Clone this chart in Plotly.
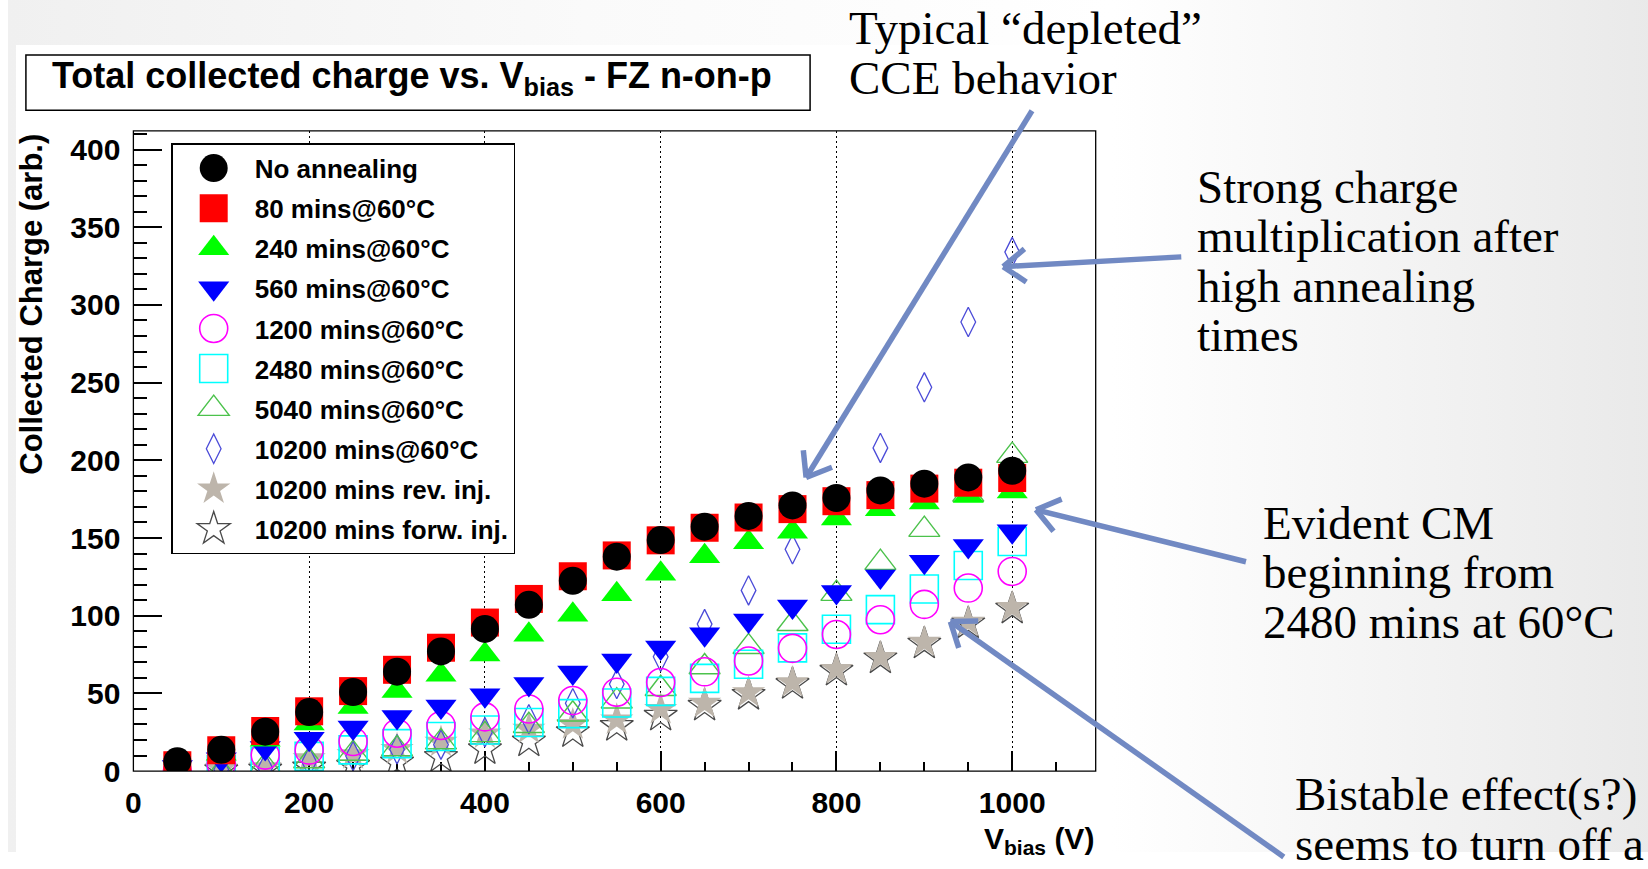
import numpy as np
import plotly.graph_objects as go

W, H = 1648, 869

# ---- data -------------------------------------------------------------
voltage = [50, 100, 150, 200, 250, 300, 350, 400, 450, 500,
           550, 600, 650, 700, 750, 800, 850, 900, 950, 1000]

no_anneal = [6.3, 13.7, 25.4, 38.0, 50.9, 64.0, 77.0, 91.5, 107.0, 122.5,
             138.0, 148.7, 157.3, 164.2, 171.0, 175.8, 180.6, 185.0, 189.0, 193.3]
ann_80 = [3.8, 13.5, 25.8, 38.5, 51.5, 65.2, 79.4, 95.6, 110.8, 125.4,
          138.8, 148.5, 156.6, 163.2, 168.6, 173.7, 177.6, 181.8, 185.6, 188.6]
ann_240 = [3.0, 11.2, 20.2, 30.7, 41.2, 51.5, 62.0, 75.0, 87.7, 100.6,
           113.8, 127.0, 138.2, 147.2, 154.0, 162.6, 168.5, 172.9, 177.0, 180.0]
ann_560 = [2.6, 7.6, 14.9, 20.8, 28.0, 34.9, 41.6, 48.8, 56.0, 63.5,
           71.2, 79.6, 88.0, 97.0, 106.0, 115.3, 125.3, 134.8, 144.9, 154.4]
ann_1200 = [0.0, 4.4, 10.3, 13.5, 19.1, 24.4, 29.4, 34.9, 40.0, 45.4,
            50.8, 57.0, 63.9, 70.9, 79.0, 87.9, 97.4, 107.3, 117.8, 128.5]
ann_2480 = [None, 0.8, 6.1, 9.5, 13.7, 17.7, 22.3, 26.5, 31.3, 37.0,
            43.8, 51.3, 59.7, 68.8, 79.3, 91.3, 103.9, 117.2, 132.3, 147.8]
ann_5040 = [None, 0.0, 3.4, 6.5, 11.3, 14.3, 18.7, 23.3, 29.2, 36.6,
            45.0, 53.0, 67.0, 80.0, 94.8, 114.2, 134.2, 155.4, 178.0, 203.0]
ann_10200 = [None, 1.0, 2.0, 6.0, 9.7, 14.0, 17.0, 25.0, 33.4, 43.7,
             56.0, 73.6, 94.6, 116.3, 142.7, 172.0, 208.0, 247.0, 289.0, 334.0]
rev_inj = [None, 1.4, 2.3, 8.0, 10.6, 14.0, 18.7, 24.0, 27.0, 30.0,
           33.0, 39.7, 43.7, 50.5, 57.0, 65.4, 73.2, 83.0, 95.9, 105.4]
forw_inj = [None, 0.5, 1.0, 2.3, 3.4, 5.5, 9.0, 14.0, 19.0, 25.0,
            29.0, 35.6, 42.0, 49.0, 56.0, 64.5, 72.5, 82.0, 95.0, 104.5]

series_names = ["No annealing", "80 mins@60°C", "240 mins@60°C", "560 mins@60°C",
                "1200 mins@60°C", "2480 mins@60°C", "5040 mins@60°C",
                "10200 mins@60°C", "10200 mins rev. inj.", "10200 mins forw. inj."]
series_values = [no_anneal, ann_80, ann_240, ann_560, ann_1200, ann_2480,
                 ann_5040, ann_10200, rev_inj, forw_inj]

x_ticks = [0, 200, 400, 600, 800, 1000]
y_ticks = [0, 50, 100, 150, 200, 250, 300, 350, 400]

# ---- styles -----------------------------------------------------------
SANS = "Liberation Sans, Arial, sans-serif"
SERIF = "Liberation Serif, Times New Roman, serif"
ARROW = "#7189c3"

marker_styles = [
    dict(symbol="circle", size=28, color="black"),
    dict(symbol="square", size=28, color="#ff0000"),
    dict(symbol="triangle-up", size=27, color="#00ff00"),
    dict(symbol="triangle-down", size=27, color="#0000ff"),
    dict(symbol="circle-open", size=28, color="#ff00ff", line=dict(width=1.6, color="#ff00ff")),
    dict(symbol="square-open", size=28, color="#00ffff", line=dict(width=1.6, color="#00ffff")),
    dict(symbol="triangle-up-open", size=27, color="#4cc24c", line=dict(width=1.4, color="#4cc24c")),
    dict(symbol="diamond-tall-open", size=21, color="#4b4bd8", line=dict(width=1.3, color="#4b4bd8")),
    dict(symbol="star", size=25, color="#bdb5ab", line=dict(width=0)),
    dict(symbol="star-open", size=25, color="#4a4a4a", line=dict(width=1.3, color="#4a4a4a")),
]

# plot frame in figure pixels
PL, PR, PT, PB = 126, 1093, 133.5, 786.5


def to_paper(x, y):
    return x / W, 1 - y / H


fig = go.Figure()

# slide background (light grey at the edges) and the white canvas on top of it
fig.add_trace(go.Scatter(
    x=[0, 1, 1, 0, 0], y=[0, 0, 1, 1, 0], xaxis="x", yaxis="y",
    mode="lines", fill="toself", line=dict(width=0),
    fillgradient=dict(type="horizontal", start=0, stop=1,
                      colorscale=[[0, "#f0f0f0"], [0.35, "#fafafa"], [0.67, "#ffffff"],
                                  [1, "#e9e9e9"]]),
    hoverinfo="skip", showlegend=False))
cx0, cy0 = to_paper(8, 46)
cx1, cy1 = to_paper(1108, H)
fig.add_trace(go.Scatter(
    x=[cx0, cx1, cx1, cx0, cx0], y=[cy1, cy1, cy0, cy0, cy1], xaxis="x", yaxis="y",
    mode="lines", fill="toself", fillcolor="white", line=dict(width=0),
    hoverinfo="skip", showlegend=False))

# measurement series, first entry drawn on top
n = len(series_names)
for i, (name, vals, mk) in enumerate(zip(series_names, series_values, marker_styles)):
    fig.add_trace(go.Scatter(
        x=voltage, y=vals, name=name, mode="markers", marker=mk,
        xaxis="x2", yaxis="y2", cliponaxis=False, zorder=n - i,
        legendgroup=f"g{i}"))

fig.update_layout(
    width=W, height=H, autosize=False,
    margin=dict(l=0, r=0, t=0, b=0),
    paper_bgcolor="white", plot_bgcolor="rgba(0,0,0,0)",
    xaxis=dict(domain=[0, 1], range=[0, 1], visible=False, fixedrange=True),
    yaxis=dict(domain=[0, 1], range=[0, 1], visible=False, fixedrange=True),
    xaxis2=dict(
        domain=[PL / W, PR / W], anchor="y2", range=[0, 1095],
        tickvals=x_ticks, ticks="inside", ticklen=20, tickwidth=1.5, tickcolor="black",
        minor=dict(dtick=50, ticks="inside", ticklen=9, tickwidth=1.5, tickcolor="black",
                   showgrid=False),
        showgrid=True, gridcolor="black", griddash="2px,3px", gridwidth=1.3,
        zeroline=False, showline=True, linecolor="black", linewidth=3,
        tickfont=dict(family=SANS, size=30, color="black", weight="bold"),
        ticklabelstandoff=3),
    yaxis2=dict(
        domain=[1 - PB / H, 1 - PT / H], anchor="x2", range=[0, 412],
        tickvals=y_ticks, ticks="inside", ticklen=29, tickwidth=1.5, tickcolor="black",
        minor=dict(dtick=10, ticks="inside", ticklen=14, tickwidth=1.5, tickcolor="black",
                   showgrid=False),
        showgrid=False, zeroline=False, showline=True, linecolor="black", linewidth=3,
        tickfont=dict(family=SANS, size=30, color="black", weight="bold"),
        ticklabelstandoff=4),
    legend=dict(
        x=164 / W, y=1 - 146 / H, xanchor="left", yanchor="top",
        bgcolor="white", bordercolor="black", borderwidth=1.5,
        font=dict(family=SANS, size=26, color="black", weight="bold"),
        tracegroupgap=3.3, itemwidth=72),
)

shapes = []
# frame around the plotting area
shapes.append(dict(type="rect", xref="x2 domain", yref="y2 domain", x0=0, x1=1, y0=0, y1=1,
                   line=dict(color="black", width=1.3), layer="above"))
# title box
tx0, ty0 = to_paper(18, 112.5)
tx1, ty1 = to_paper(806, 56)
shapes.append(dict(type="rect", xref="paper", yref="paper", x0=tx0, x1=tx1, y0=ty0, y1=ty1,
                   line=dict(color="black", width=1.5), fillcolor="white", layer="above"))


def arrow(tail, tip, head_len=28, half_angle=37, width=5.5):
    """Straight call-out arrow with an open V head, given in figure pixels."""
    tail = np.asarray(tail, float)
    tip = np.asarray(tip, float)
    back = (tail - tip) / np.linalg.norm(tail - tip)
    out = []
    x0, y0 = to_paper(*tail)
    x1, y1 = to_paper(*tip)
    out.append(dict(type="line", xref="paper", yref="paper", x0=x0, y0=y0, x1=x1, y1=y1,
                    line=dict(color=ARROW, width=width), layer="above"))
    for s in (-1, 1):
        a = np.radians(s * half_angle)
        rot = np.array([[np.cos(a), -np.sin(a)], [np.sin(a), np.cos(a)]])
        end = tip + head_len * rot @ back
        ex, ey = to_paper(*end)
        out.append(dict(type="line", xref="paper", yref="paper", x0=x1, y0=y1, x1=ex, y1=ey,
                        line=dict(color=ARROW, width=width), layer="above"))
    return out


shapes += arrow((1029, 113), (802, 487))
shapes += arrow((1179, 262), (1000, 272))
shapes += arrow((1244, 573), (1033, 520))
shapes += arrow((1282, 874), (947, 634))
fig.update_layout(shapes=shapes)

annotations = []

# title text
annotations.append(dict(
    x=42 / W, y=1 - 80 / H, xref="paper", yref="paper", xanchor="left", yanchor="middle",
    text="Total collected charge vs. V<sub>bias</sub> - FZ n-on-p", showarrow=False,
    font=dict(family=SANS, size=36, color="black", weight="bold")))

# axis titles
annotations.append(dict(
    x=1093 / W, y=1 - 836 / H, xref="paper", yref="paper", xanchor="right", yanchor="top",
    text="V<sub>bias</sub> (V)", showarrow=False,
    font=dict(family=SANS, size=30, color="black", weight="bold")))
annotations.append(dict(
    x=24 / W, y=1 - 134 / H, xref="paper", yref="paper", xanchor="center", yanchor="top",
    text="Collected Charge (arb.)", textangle=-90, showarrow=False,
    font=dict(family=SANS, size=31, color="black", weight="bold")))

# slide call-outs: (left x, baseline y, text)
callouts = [
    (843, 44, "Typical “depleted”"),
    (843, 95, "CCE behavior"),
    (1193, 207, "Strong charge"),
    (1193, 257, "multiplication after"),
    (1193, 308, "high annealing"),
    (1193, 358, "times"),
    (1259, 549, "Evident CM"),
    (1259, 599.5, "beginning from"),
    (1259, 650, "2480 mins at 60°C"),
    (1291, 826, "Bistable effect(s?)"),
    (1291, 877, "seems to turn off a"),
]
FS = 47
for lx, base, txt in callouts:
    ax, ay = to_paper(lx, base - 0.3375 * FS)
    annotations.append(dict(
        x=ax, y=ay, xref="paper", yref="paper", xanchor="left", yanchor="middle",
        text=txt, showarrow=False, font=dict(family=SERIF, size=FS, color="black")))

fig.update_layout(annotations=annotations)

# page without body margin; legend symbols drawn at the same size as in the plot
post_js = """
document.body.style.margin = '0';
document.body.style.overflow = 'hidden';
var gd = document.getElementById('{plot_id}');
function growLegend() {
  gd.querySelectorAll('.legend g.traces').forEach(function (g) {
    var d = g.__data__;
    var tr = d && d[0] && d[0].trace;
    if (!tr || !tr.marker) return;
    var s = tr.marker.size;
    var k = s / Math.min(s, 16);
    g.querySelectorAll('path.scatterpts').forEach(function (p) {
      var t = p.getAttribute('transform') || '';
      if (t.indexOf('scale') < 0) {
        p.setAttribute('transform', t + ' scale(' + k + ')');
        p.style.vectorEffect = 'non-scaling-stroke';
      }
    });
  });
}
growLegend();
gd.on('plotly_afterplot', growLegend);
"""

fig.write_html("out.html", post_script=post_js)
